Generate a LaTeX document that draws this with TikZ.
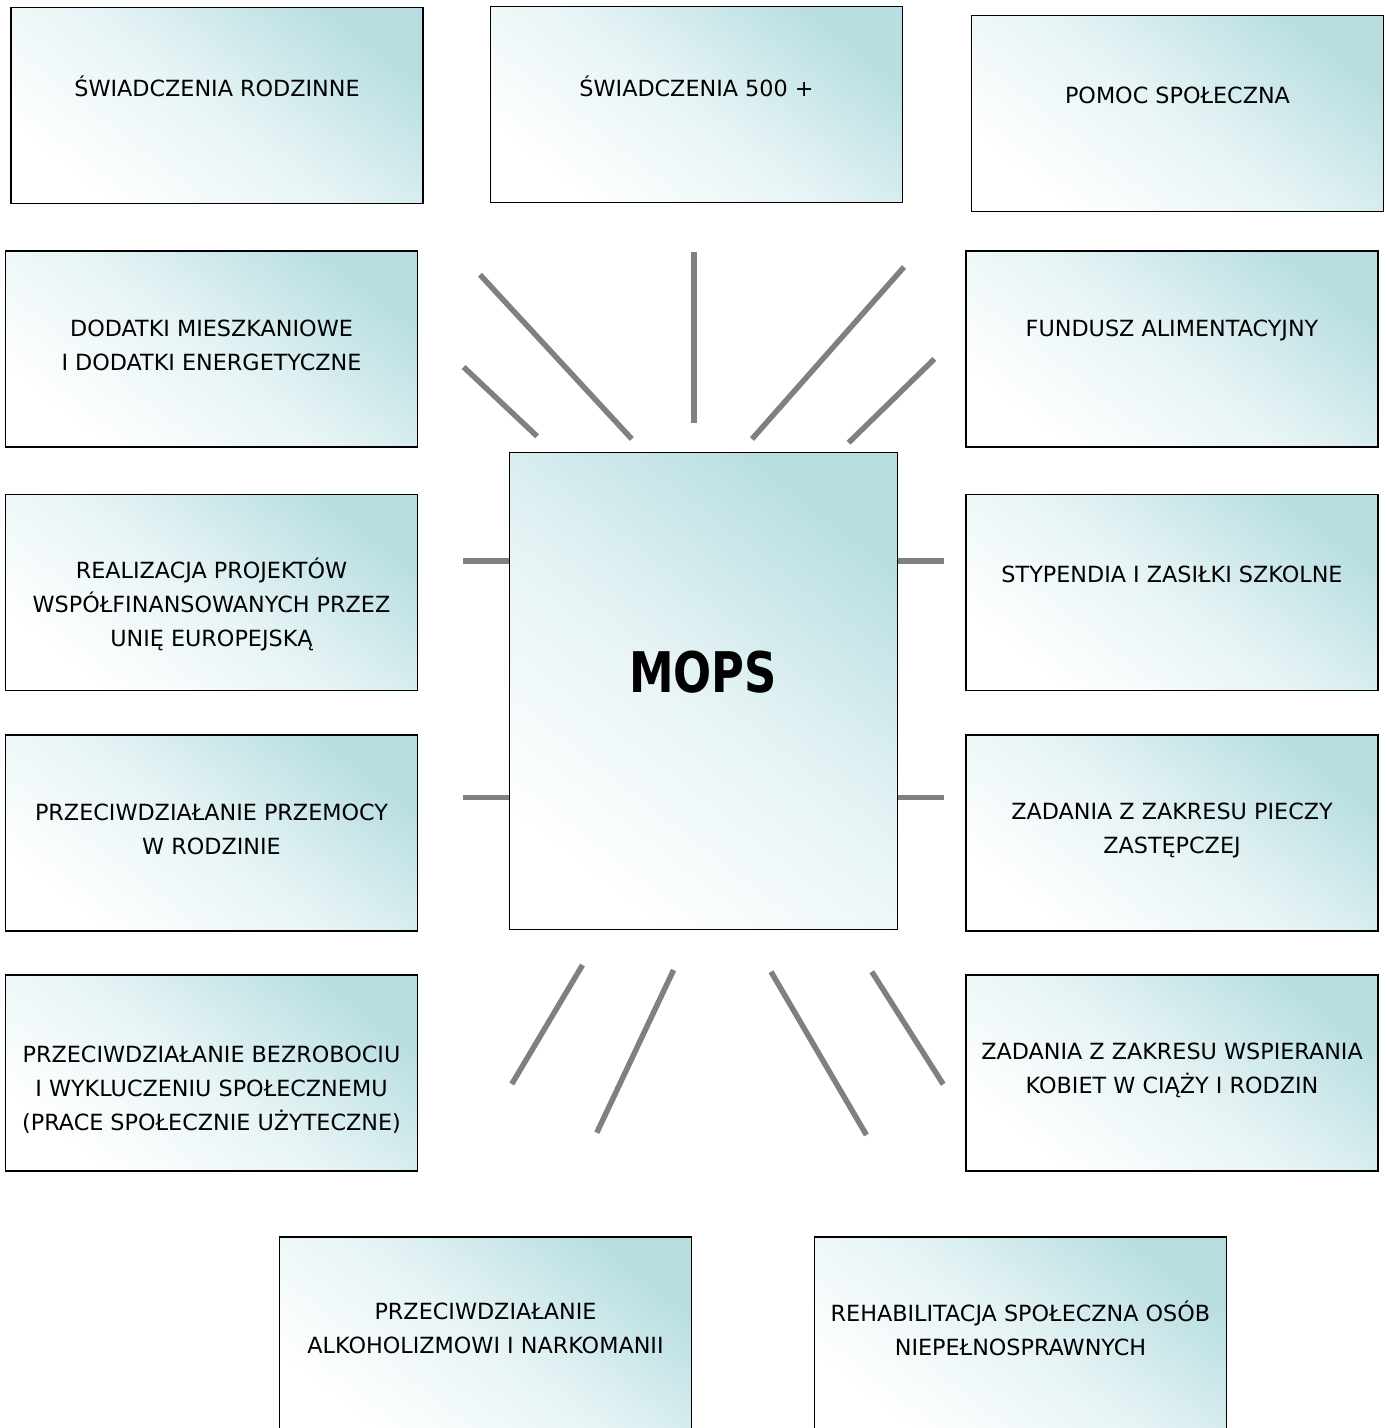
\documentclass[tikz,border=0pt]{standalone}
\usepackage{fontspec}
\setmainfont{DejaVu Sans}
\definecolor{boxteal}{RGB}{184,222,226}
\definecolor{raygray}{RGB}{128,128,128}
\tikzset{
	box/.style={draw=black, line width=1.2pt, bottom color=white, top color=boxteal, middle color=boxteal!35!white, shading angle=-38, minimum width=412pt, minimum height=196pt, inner sep=0pt},
	txt/.style={align=center, inner sep=0pt, font=\fontsize{22.3}{34}\selectfont},
	ray/.style={draw=raygray, line width=5.5pt}
}

\begin{document}
\begin{tikzpicture}[x=1pt, y=-1pt]
	%%%%% START %%%%%
	\useasboundingbox (0, 0) rectangle (1386, 1428);
	
	% top row
	\node[box] (rodzinne) at (217, 105.5) {};
	\node[txt] (rodzinneT) at (217, 86) {ŚWIADCZENIA RODZINNE};
	
	\node[box] (piecset) at (696.5, 104.5) {};
	\node[txt] (piecsetT) at (696.5, 86) {ŚWIADCZENIA 500 +};
	
	\node[box] (pomoc) at (1177.5, 113.5) {};
	\node[txt] (pomocT) at (1177.5, 95) {POMOC SPOŁECZNA};
	
	% left column
	\node[box] (dodatki) at (211.5, 349) {};
	\node[txt] (dodatkiT) at (211.5, 345) {DODATKI MIESZKANIOWE\\I DODATKI ENERGETYCZNE};
	
	\node[box] (unia) at (211.5, 592.5) {};
	\node[txt] (uniaT) at (211.5, 604) {REALIZACJA PROJEKTÓW\\WSPÓŁFINANSOWANYCH PRZEZ\\UNIĘ EUROPEJSKĄ};
	
	\node[box] (przemoc) at (211.5, 833) {};
	\node[txt] (przemocT) at (211.5, 829) {PRZECIWDZIAŁANIE PRZEMOCY\\W RODZINIE};
	
	\node[box] (bezrob) at (211.5, 1073) {};
	\node[txt] (bezrobT) at (211.5, 1090) {PRZECIWDZIAŁANIE BEZROBOCIU\\I WYKLUCZENIU SPOŁECZNEMU\\(PRACE SPOŁECZNIE UŻYTECZNE)};
	
	% right column
	\node[box] (fundusz) at (1172, 349) {};
	\node[txt] (funduszT) at (1172, 330) {FUNDUSZ ALIMENTACYJNY};
	
	\node[box] (stypend) at (1172, 592.5) {};
	\node[txt] (stypendT) at (1172, 574) {STYPENDIA I ZASIŁKI SZKOLNE};
	
	\node[box] (piecza) at (1172, 833) {};
	\node[txt] (pieczaT) at (1172, 830) {ZADANIA Z ZAKRESU PIECZY\\ZASTĘPCZEJ};
	
	\node[box] (kobiety) at (1172, 1073) {};
	\node[txt] (kobietyT) at (1172, 1070) {ZADANIA Z ZAKRESU WSPIERANIA\\KOBIET W CIĄŻY I RODZIN};
	
	% bottom row
	\node[box] (alkohol) at (485.5, 1335) {};
	\node[txt] (alkoholT) at (485.5, 1328) {PRZECIWDZIAŁANIE\\ALKOHOLIZMOWI I NARKOMANII};
	
	\node[box] (rehab) at (1020.5, 1335) {};
	\node[txt] (rehabT) at (1020.5, 1328) {REHABILITACJA SPOŁECZNA OSÓB\\NIEPEŁNOSPRAWNYCH};
	
	% centre
	\node[box, minimum width=388pt, minimum height=477pt, line width=1pt] (mops) at (703, 690.5) {};
	\node[inner sep=0pt, font=\bfseries\fontsize{56}{60}\selectfont] (mopsT) at (703, 672) {\scalebox{0.8}[1]{MOPS}};
	
	% rays above
	\draw[ray] (463.6, 367) -- (537.1, 436.3);
	\draw[ray] (480, 274.7) -- (631.8, 439);
	\draw[ray] (694, 251.7) -- (694, 422.7);
	\draw[ray] (904, 267) -- (752, 439);
	\draw[ray] (934.3, 359) -- (848.6, 442.7);
	
	% stubs at the sides
	\draw[ray] (mops.west |- 0, 561) -- ++(-46, 0);
	\draw[ray] (mops.west |- 0, 797.5) -- ++(-46, 0);
	\draw[ray] (mops.east |- 0, 561) -- ++(46, 0);
	\draw[ray] (mops.east |- 0, 797.5) -- ++(46, 0);
	
	% rays below
	\draw[ray] (582.5, 965) -- (511.8, 1084);
	\draw[ray] (673.6, 970) -- (596.8, 1132.7);
	\draw[ray] (771, 971.7) -- (866.4, 1135);
	\draw[ray] (871.8, 971.7) -- (943.2, 1084.3);
	
	%%%%% END %%%%%
\end{tikzpicture}
\end{document}
